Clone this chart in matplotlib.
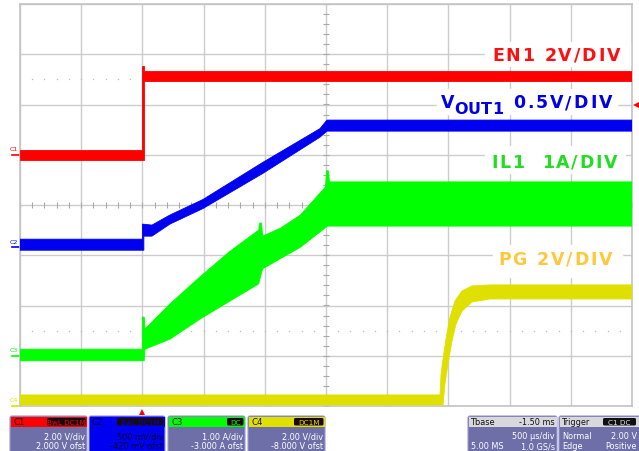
import numpy as np
import matplotlib.pyplot as plt
from matplotlib.patches import Rectangle, FancyBboxPatch

W, H = 639, 452

# time in ms (trigger at 0, 500 us/div), vertical in screen divisions (0 = centre)
# every trace is a noisy band: upper and lower edge
en1_up_t = [-1.0, 0.0, 0.0, 0.012, 0.012, 4.0]
en1_up = [1.09, 1.09, 2.77, 2.77, 2.67, 2.67]
en1_lo_t = [-1.0, 0.012, 0.012, 4.0]
en1_lo = [0.90, 0.90, 2.47, 2.47]

vout_up_t = [-1.0, 0.0, 0.0, 0.078, 0.225, 0.495, 0.985, 1.451, 1.508, 4.0]
vout_up = [-0.68, -0.68, -0.38, -0.40, -0.20, 0.11, 0.85, 1.52, 1.69, 1.69]
vout_lo_t = [-1.0, 0.012, 0.012, 0.078, 0.225, 0.495, 0.985, 1.451, 1.508, 4.0]
vout_lo = [-0.90, -0.90, -0.62, -0.62, -0.38, -0.07, 0.63, 1.35, 1.47, 1.47]

il1_up_t = [-1.0, 0.0, 0.0, 0.015, 0.021, 0.225, 0.471, 0.716, 0.950, 0.958,
            0.974, 0.982, 1.129, 1.291, 1.496, 1.504, 1.520, 1.528, 4.0]
il1_up = [-2.87, -2.87, -2.23, -2.23, -2.47, -1.97, -1.43, -0.92, -0.50, -0.36,
          -0.36, -0.62, -0.46, -0.20, 0.36, 0.68, 0.68, 0.46, 0.46]
il1_lo_t = [-1.0, 0.015, 0.021, 0.225, 0.471, 0.716, 0.950, 0.982, 1.291, 1.512, 4.0]
il1_lo = [-3.10, -3.10, -2.87, -2.67, -2.27, -1.91, -1.57, -1.27, -0.84, -0.42, -0.42]

pg_up_t = [-1.0, 2.431, 2.440, 2.456, 2.480, 2.513, 2.554, 2.611, 2.693, 2.840, 4.0]
pg_up = [-3.78, -3.78, -3.36, -3.07, -2.67, -2.23, -1.91, -1.71, -1.61, -1.59, -1.59]
pg_lo_t = [-1.0, 2.456, 2.472, 2.497, 2.529, 2.562, 2.611, 2.693, 2.840, 4.0]
pg_lo = [-3.98, -3.98, -3.56, -3.16, -2.71, -2.37, -2.11, -1.93, -1.87, -1.87]

ch_names = ['C1', 'C2', 'C3', 'C4']
ch_colors = ['#ff0000', '#0000f0', '#00ff00', '#e0e000']
ch_ground = [1.0, -0.84, -3.0, -4.0]  # ground markers (offset / scale)
ch_scale = ['2.00 V/div', '500 mV/div', '1.00 A/div', '2.00 V/div']
ch_offset = ['2.000 V ofst', '-420 mV ofst', '-3.000 A ofst', '-8.000 V ofst']
ch_badge = ['BwL DC1M', 'BwL DC1M', 'DC', 'DC1M']
trig_level = 2.0  # C1 trigger level in divisions

fig = plt.figure(figsize=(W / 100, H / 100), dpi=100)
ax = fig.add_axes([20 / W, 45 / H, 612 / W, 402 / H])
ax.set_xlim(-1.0, 4.0)
ax.set_ylim(-4, 4)
ax.set_xticks(np.arange(-1.0, 4.01, 0.5))
ax.set_yticks(np.arange(-4, 5, 1))
ax.grid(True, color='#cccccc', lw=1.0)
ax.tick_params(length=0, labelbottom=False, labelleft=False)
for s in ax.spines.values():
    s.set_color('#c4c4c4')
    s.set_linewidth(1.2)

# graticule: centre ticks and dotted half-division lines
ax.plot(np.full(41, 1.5), np.arange(-4, 4.01, 0.2), ls='none', marker='_', ms=4, color='#a8a8a8', mew=0.8)
ax.plot(np.arange(-1.0, 4.01, 0.1), np.zeros(51), ls='none', marker='|', ms=4, color='#a8a8a8', mew=0.8)
dots_t = np.arange(-0.9, 3.95, 0.1)
for lvl in (2.5, -2.5):
    ax.plot(dots_t, np.full(len(dots_t), lvl), ls='none', marker='s', ms=0.9, color='#b8b8b8', mew=0)


def band(t_up, y_up, t_lo, y_lo, color):
    xs = np.concatenate([t_up, t_lo[::-1]])
    ys = np.concatenate([y_up, y_lo[::-1]])
    ax.fill(xs, ys, color=color, lw=0.6, zorder=3)


band(en1_up_t, en1_up, en1_lo_t, en1_lo, ch_colors[0])
band(vout_up_t, vout_up, vout_lo_t, vout_lo, ch_colors[1])
band(il1_up_t, il1_up, il1_lo_t, il1_lo, ch_colors[2])
band(pg_up_t, pg_up, pg_lo_t, pg_lo, ch_colors[3])

# channel ground markers on the left
for name, col, g in zip(ch_names, ch_colors, ch_ground):
    ax.plot([-1.065, -1.0], [g, g], color=col, lw=1.2, clip_on=False)
    ax.text(-1.05, g + 0.07, name, color=col, fontsize=4.5, ha='center', va='bottom', clip_on=False)

# trigger markers
ax.plot([0.0], [-4.12], marker='^', ms=5, color='#ff0000', mew=0, clip_on=False)
ax.plot([4.035], [trig_level], marker='<', ms=4.5, color='#ff0000', mew=0, clip_on=False)

# overlay in pixel units for labels and status bar
ov = fig.add_axes([0, 0, 1, 1])
ov.set_xlim(0, W)
ov.set_ylim(H, 0)
ov.axis('off')
ov.patch.set_alpha(0)
renderer = fig.canvas.get_renderer()


def wpx(s, fs):
    a = ov.text(0, 0, s + 'x', fontsize=fs, fontweight='bold')
    b = ov.text(0, 0, 'x', fontsize=fs, fontweight='bold')
    w = a.get_window_extent(renderer).width - b.get_window_extent(renderer).width
    a.remove()
    b.remove()
    return w


def spread(x0, x1, base, s, color, fs=12.5):
    # draw s letter-spaced so that it spans x0..x1
    track = (x1 - x0 - wpx(s, fs)) / (len(s) - 1)
    for i, ch in enumerate(s):
        if ch == ' ':
            continue
        ov.text(x0 + wpx(s[:i], fs) + i * track, base, ch, color=color, fontsize=fs,
                fontweight='bold', ha='left', va='baseline', zorder=6)


for (x0, y0, x1, y1) in [(485, 43, 630, 67), (437, 90, 617, 115), (485, 147, 625, 174), (493, 246, 622, 278)]:
    ov.add_patch(Rectangle((x0, y0), x1 - x0, y1 - y0, color='white', zorder=5))

spread(492, 620, 61, 'EN1 2V/DIV', '#ff1010')
ov.text(441, 108, 'V', color='#0000e6', fontsize=12.5, fontweight='bold', va='baseline', zorder=6)
spread(454, 503, 114, 'OUT1', '#0000e6', fs=11.5)
spread(513, 612, 108, '0.5V/DIV', '#0000e6')
spread(491, 617, 168, 'IL1  1A/DIV', '#22dd22')
spread(498, 612, 265, 'PG 2V/DIV', '#ffc83c')

# status bar
body = '#6e6ea8'
fs = 5.6
boxes = [(10, 87), (89, 165), (168, 245), (248, 325)]
badge_x = [47, 117, 227, 294]
for i, (x0, x1) in enumerate(boxes):
    col = ch_colors[i]
    ov.add_patch(FancyBboxPatch((x0, 417), x1 - x0, 40, boxstyle='round,pad=0,rounding_size=2',
                                fc=ch_colors[i] if i == 1 else body, ec='#9a9ad0', lw=0.8))
    ov.add_patch(Rectangle((x0 + 0.5, 417.5), x1 - x0 - 1, 10.5, color=col, lw=0))
    ov.add_patch(FancyBboxPatch((badge_x[i], 419), x1 - 1.5 - badge_x[i], 7.5,
                                boxstyle='round,pad=0,rounding_size=1.5', fc='#1a0a0a', ec='none'))
    ov.text(x0 + 3, 423, ch_names[i], fontsize=fs + 0.6, color='#1a1a1a' if i != 1 else '#000040', va='center')
    ov.text((badge_x[i] + x1 - 1.5) / 2, 423, ch_badge[i], fontsize=fs - 0.4, color=col, va='center', ha='center')
    tc = 'white' if i != 1 else '#000030'
    ov.text(x1 - 2, 437, ch_scale[i], fontsize=fs + 0.3, color=tc, ha='right', va='center')
    ov.text(x1 - 2, 447, ch_offset[i], fontsize=fs + 0.3, color=tc, ha='right', va='center')

tb_left = ['Tbase', '', '5.00 MS']
tb_right = ['-1.50 ms', '500 \u00b5s/div', '1.0 GS/s']
tr_left = ['Trigger', 'Normal', 'Edge']
tr_right = ['', '2.00 V', 'Positive']
for (x0, x1), left, right in [((468, 557), tb_left, tb_right), ((559, 645), tr_left, tr_right)]:
    ov.add_patch(FancyBboxPatch((x0, 417), x1 - x0, 40, boxstyle='round,pad=0,rounding_size=2',
                                fc=body, ec='#9a9ad0', lw=0.8))
    ov.add_patch(Rectangle((x0 + 0.5, 417.5), x1 - x0 - 1, 10.5, color='#d8d8dc', lw=0))
    xr = min(x1, 639) - 2
    for j, yy in enumerate([423, 437, 447]):
        c = '#101010' if j == 0 else 'white'
        ov.text(x0 + 3, yy, left[j], fontsize=fs + 0.3, color=c, va='center')
        ov.text(xr, yy, right[j], fontsize=fs + 0.3, color=c, va='center', ha='right')
ov.add_patch(FancyBboxPatch((603, 419), 33, 7.5, boxstyle='round,pad=0,rounding_size=1.5', fc='#101010', ec='none'))
ov.text(619.5, 423, 'C1 DC', fontsize=fs - 0.4, color='#e8e8e8', va='center', ha='center')

fig.savefig('out.png', dpi=100)
